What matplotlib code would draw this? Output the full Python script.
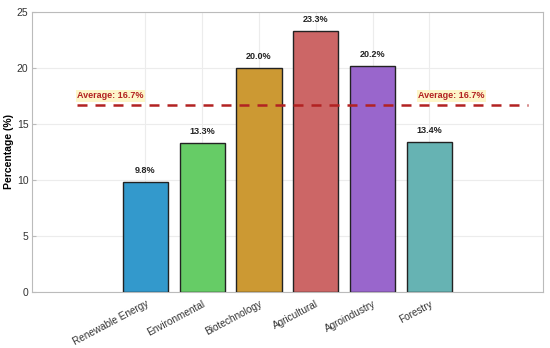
import matplotlib
matplotlib.use("Agg")
import matplotlib.pyplot as plt
import numpy as np

categories = ["Renewable Energy", "Environmental", "Biotechnology",
              "Agricultural", "Agroindustry", "Forestry"]
percentages = [9.8, 13.3, 20.0, 23.3, 20.2, 13.4]
bar_colors = ["#3399cc", "#66cc66", "#cc9933", "#cc6666", "#9966cc", "#66b3b3"]
average = 16.7

plt.rcParams['font.family'] = ['Liberation Sans', 'DejaVu Sans']

fig, ax = plt.subplots(figsize=(5.5, 3.48), dpi=100)
x = np.arange(len(categories))
ax.bar(x, percentages, width=0.8, color=bar_colors, edgecolor="#222222",
       linewidth=1.0, zorder=3)

for xi, val in zip(x, percentages):
    ax.text(xi, val + 0.6, f"{val:.1f}%", ha="center", va="bottom",
            fontsize=6.5, fontweight="bold", color="#222222", zorder=4)

# average line with labels at both ends, drawn over the bars
ax.axhline(average, xmin=0.088, xmax=0.97, color="#b22222", linestyle="--",
           linewidth=1.8, dashes=(4, 3.2), zorder=5)
box = dict(boxstyle="square,pad=0.15", facecolor="#fdf6c3", edgecolor="none", alpha=0.9)
ax.text(-1.2, average + 0.4, f"Average: {average}%", fontsize=6.5, fontweight="bold",
        color="#b22222", ha="left", va="bottom", bbox=box, zorder=6)
ax.text(4.8, average + 0.4, f"Average: {average}%", fontsize=6.5, fontweight="bold",
        color="#b22222", ha="left", va="bottom", bbox=box, zorder=6)

ax.set_xlim(-2, 7)
ax.set_ylim(0, 25)
ax.set_xticks(x)
ax.set_xticklabels(categories, rotation=28, ha="right", fontsize=7.2,
                   color="#333333", rotation_mode="anchor")
ax.tick_params(axis="both", direction="in", length=3, color="#bbbbbb")
ax.tick_params(axis="y", labelsize=7.5, colors="#333333", pad=2.5)
ax.tick_params(axis="y", color="#bbbbbb")
ax.tick_params(axis="x", pad=5)
ax.set_ylabel("Percentage (%)", fontsize=7.5, fontweight="bold", labelpad=2)
ax.grid(True, color="#ececec", linewidth=0.8, zorder=0)
for s in ax.spines.values():
    s.set_color("#bbbbbb")

fig.subplots_adjust(left=0.058, right=0.987, top=0.966, bottom=0.161)
fig.savefig("out.png", dpi=100)
